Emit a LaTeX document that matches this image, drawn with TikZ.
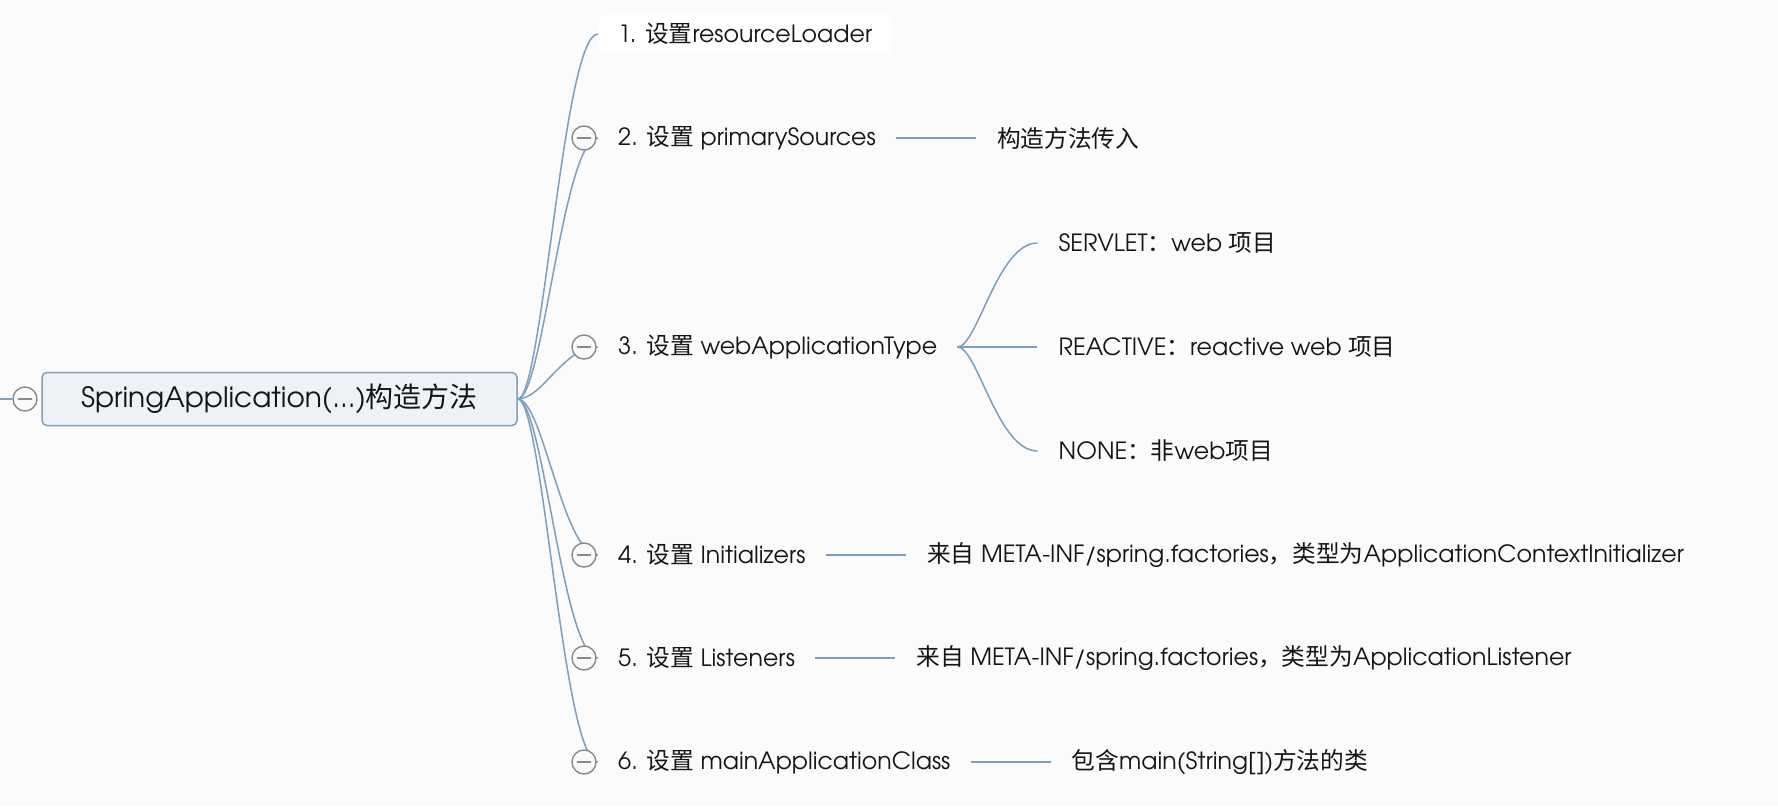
\documentclass[tikz,border=0pt]{standalone}
\usepackage{fontspec}
\setmainfont{TeX Gyre Adventor}
\newfontfamily\cjkfont{Noto Sans CJK SC}
\newcommand\zh[1]{{\cjkfont #1}}
\usetikzlibrary{positioning,calc}
\definecolor{bgc}{HTML}{FBFBFB}
\definecolor{linec}{HTML}{7C9EBF}
\definecolor{rootfill}{HTML}{EEF2F6}
\definecolor{rootdraw}{HTML}{7F9FBE}
\definecolor{circc}{HTML}{8A8A8A}
\definecolor{txt}{HTML}{151515}
\begin{document}
\begin{tikzpicture}[x=1pt,y=-1pt,
  conn/.style={draw=linec,line width=1.5pt},
  topic/.style={anchor=west,inner xsep=20pt,inner ysep=0pt,minimum height=39pt,text=txt,font=\fontsize{23.7}{28}\selectfont},
  leaf/.style={anchor=west,inner xsep=21pt,inner ysep=0pt,minimum height=39pt,text=txt,font=\fontsize{23.7}{28}\selectfont},
  rootbox/.style={draw=rootdraw,fill=rootfill,line width=1.5pt,rounded corners=5pt,minimum width=475pt,minimum height=53pt,inner sep=0pt,text=txt,font=\fontsize{28}{32}\selectfont},
  collapse/.style={circle,draw=circc,fill=bgc,line width=1.4pt,minimum size=24pt,inner sep=0pt}
]
\useasboundingbox[fill=bgc] (0,0) rectangle (1778,806);

% root
\node[rootbox] (root) at (279.5,399) {SpringApplication(...)\zh{构造方法}};
\coordinate (lft) at (0,399);

% first-level topics
\node[topic,fill=white,rounded corners=8pt] (t1) at (598,34) {1. \zh{设置}resourceLoader};
\node[topic] (t2) at (598,138) {2. \zh{设置} primarySources};
\node[topic] (t3) at (598,347) {3. \zh{设置} webApplicationType};
\node[topic] (t4) at (598,555) {4. \zh{设置} Initializers};
\node[topic] (t5) at (598,658) {5. \zh{设置} Listeners};
\node[topic] (t6) at (598,762) {6. \zh{设置} mainApplicationClass};

% leaves
\node[leaf,right=80pt of t2] (l2) {\zh{构造方法传入}};
\node[leaf] (l3a) at ($(t3.east)+(80,-104)$) {SERVLET\zh{：}web \zh{项目}};
\node[leaf] (l3b) at ($(t3.east)+(80,0)$) {REACTIVE\zh{：}reactive web \zh{项目}};
\node[leaf] (l3c) at ($(t3.east)+(80,104)$) {NONE\zh{：非}web\zh{项目}};
\node[leaf,right=80pt of t4] (l4) {\zh{来自} META-INF/spring.factories\zh{，类型为}ApplicationContextInitializer};
\node[leaf,right=80pt of t5] (l5) {\zh{来自} META-INF/spring.factories\zh{，类型为}ApplicationListener};
\node[leaf,right=80pt of t6] (l6) {\zh{包含}main(String[])\zh{方法的类}};

% connectors root -> topics
\foreach \t in {t1,t2,t3,t4,t5,t6}{
  \draw[conn] (root.east) .. controls +(25,0) and +(-35,0) .. (\t.west);
}
% connectors topic -> leaf
\draw[conn] (t2.east) -- (l2.west);
\draw[conn] (t4.east) -- (l4.west);
\draw[conn] (t5.east) -- (l5.west);
\draw[conn] (t6.east) -- (l6.west);
\draw[conn] (t3.east) .. controls +(20,0) and +(-40,0) .. (l3a.west);
\draw[conn] (t3.east) -- (l3b.west);
\draw[conn] (t3.east) .. controls +(20,0) and +(-40,0) .. (l3c.west);

% collapse markers
\node[collapse] (c0) at (25,399) {\textcolor{circc}{\rule{14pt}{1.4pt}}};
\draw[conn] (lft) -- (c0.west);
\node[collapse] (c2) at ($(t2.west)+(-14,0)$) {\textcolor{circc}{\rule{14pt}{1.4pt}}};
\node[collapse] (c3) at ($(t3.west)+(-14,0)$) {\textcolor{circc}{\rule{14pt}{1.4pt}}};
\node[collapse] (c4) at ($(t4.west)+(-14,0)$) {\textcolor{circc}{\rule{14pt}{1.4pt}}};
\node[collapse] (c5) at ($(t5.west)+(-14,0)$) {\textcolor{circc}{\rule{14pt}{1.4pt}}};
\node[collapse] (c6) at ($(t6.west)+(-14,0)$) {\textcolor{circc}{\rule{14pt}{1.4pt}}};
\end{tikzpicture}
\end{document}
